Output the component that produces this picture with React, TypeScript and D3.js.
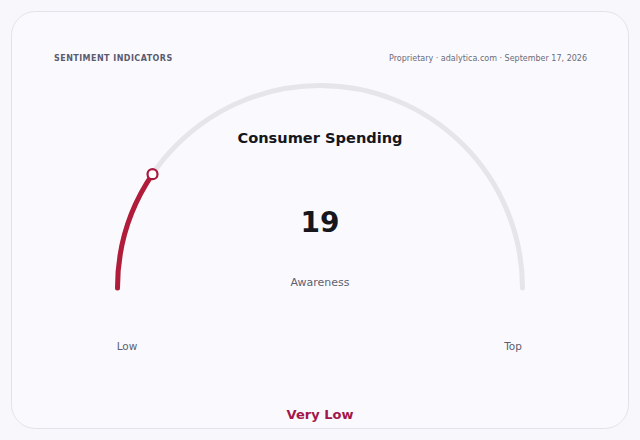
import React from 'react';
import * as d3 from 'd3';

// gauge data
const gaugeTitle = 'Consumer Spending';
const gaugeValue = 19;
const gaugeDomain = [0, 100];
const gaugeMetric = 'Awareness';
const endLabels = ['Low', 'Top'];
const bandLabel = 'Very Low';
const headerLeft = 'SENTIMENT INDICATORS';
const headerRight = 'Proprietary · adalytica.com · September 17, 2026';

const W = 640;
const H = 440;
const FONT = '"DejaVu Sans", Verdana, sans-serif';

const App: React.FC = () => {
  const cx = 320;
  const cy = 288;
  const r = 202.5;
  const thick = 5;

  const angle = d3.scaleLinear()
    .domain(gaugeDomain)
    .range([-Math.PI / 2, Math.PI / 2])
    .clamp(true);

  // centre-line arc, stroked with round caps
  const arcLine = (from: number, to: number) => {
    const p = d3.path();
    p.arc(0, 0, r, from - Math.PI / 2, to - Math.PI / 2, false);
    return p.toString();
  };

  const track = arcLine(angle(gaugeDomain[0]), angle(gaugeDomain[1]));
  const valueArc = arcLine(angle(gaugeDomain[0]), angle(gaugeValue));

  const a = angle(gaugeValue);
  const knobX = cx + r * Math.sin(a);
  const knobY = cy - r * Math.cos(a);

  return (
    <svg width={W} height={H} style={{ position: 'absolute', left: 0, top: 0 }} fontFamily={FONT}>
      <rect x={0} y={0} width={W} height={H} fill="#f7f7fc" />
      <rect x={11.5} y={11.5} width={617} height={417} rx={24} fill="#fafafe" stroke="#e2e2ea" strokeWidth={1} />

      <text x={54} y={61} fontSize={8} fontWeight="bold" fill="#5b5b70" letterSpacing={0.45}>{headerLeft}</text>
      <text x={587} y={61} fontSize={8} fill="#6a6a7a" textAnchor="end">{headerRight}</text>

      <g transform={`translate(${cx},${cy})`} fill="none" strokeWidth={thick} strokeLinecap="round">
        <path d={track} stroke="#e5e5ea" />
        <path d={valueArc} stroke="#b01c3a" />
      </g>
      <circle cx={knobX} cy={knobY} r={5} fill="#ffffff" stroke="#a8193e" strokeWidth={2.2} />

      <text x={cx} y={143} fontSize={14.6} fontWeight="bold" fill="#16161c" textAnchor="middle">{gaugeTitle}</text>
      <text x={cx} y={232} fontSize={28} fontWeight="bold" fill="#16161c" textAnchor="middle">{gaugeValue}</text>
      <text x={cx} y={286} fontSize={11} fill="#606070" textAnchor="middle">{gaugeMetric}</text>

      <text x={127} y={350} fontSize={10.5} fill="#5e5e6c" textAnchor="middle">{endLabels[0]}</text>
      <text x={513} y={350} fontSize={10.5} fill="#5e5e6c" textAnchor="middle">{endLabels[1]}</text>

      <text x={cx} y={419} fontSize={13} fontWeight="bold" fill="#a3164a" textAnchor="middle">{bandLabel}</text>
    </svg>
  );
};

export default App;
